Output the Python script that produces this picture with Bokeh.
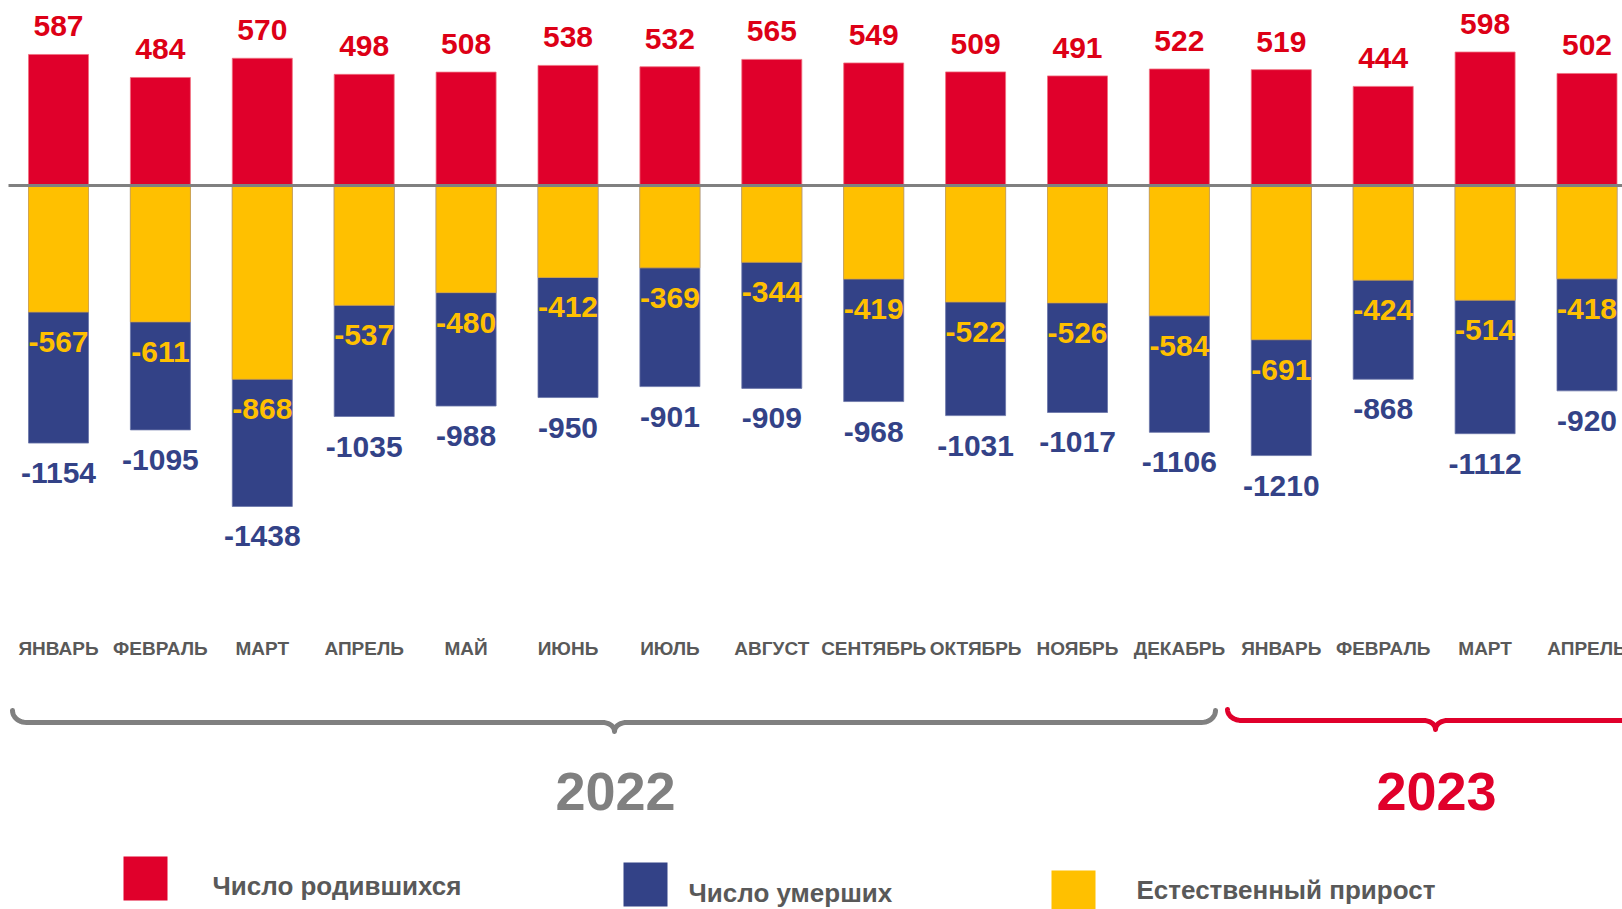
import numpy as np
from bokeh.plotting import figure
from bokeh.models import Range1d, ColumnDataSource
from bokeh.core.properties import value
from bokeh.embed import file_html
from bokeh.resources import INLINE

# ---------------- data ----------------
months = ["ЯНВАРЬ", "ФЕВРАЛЬ", "МАРТ", "АПРЕЛЬ", "МАЙ", "ИЮНЬ", "ИЮЛЬ", "АВГУСТ",
          "СЕНТЯБРЬ", "ОКТЯБРЬ", "НОЯБРЬ", "ДЕКАБРЬ", "ЯНВАРЬ", "ФЕВРАЛЬ", "МАРТ", "АПРЕЛЬ"]
births = [587, 484, 570, 498, 508, 538, 532, 565, 549, 509, 491, 522, 519, 444, 598, 502]
deaths = [-1154, -1095, -1438, -1035, -988, -950, -901, -909, -968, -1031, -1017, -1106,
          -1210, -868, -1112, -920]
growth = [-567, -611, -868, -537, -480, -412, -369, -344, -419, -522, -526, -584,
          -691, -424, -514, -418]
years = ["2022", "2023"]
legend_labels = ["Число родившихся", "Число умерших", "Естественный прирост"]

RED = "#E0002B"
BLUE = "#334287"
YELLOW = "#FFC000"
GRAY = "#808080"
TXT = "#595959"
FONT = "Liberation Sans"

W, H = 1622, 909
X0_PX, STEP = 58.0, 101.9      # pixel centre of first bar, pixel spacing
Y0_PX, SCALE = 185.0, 0.2232   # pixel of zero line, pixels per unit


def dx(px):
    return (px - X0_PX) / STEP


def dy(px):
    return (Y0_PX - px) / SCALE


p = figure(width=W, height=H, output_backend="svg", toolbar_location=None,
           x_range=Range1d(dx(0), dx(W)), y_range=Range1d(dy(H), dy(0)),
           x_axis_type=None, y_axis_type=None, min_border=0)
p.outline_line_color = None
p.grid.visible = False
p.background_fill_color = "white"
p.border_fill_color = "white"

n = len(months)
idx = list(range(n))
src = ColumnDataSource(dict(
    x=idx, births=births, deaths=deaths, growth=growth, months=months,
    btxt=[str(v) for v in births], dtxt=[str(v) for v in deaths],
    gtxt=[str(v) for v in growth],
    by=[b + 28 / SCALE for b in births],
    dyy=[d - 30 / SCALE for d in deaths],
    gy=[g - 30 / SCALE for g in growth],
    my=[dy(648)] * n,
))

bw = 60 / STEP
p.vbar(x="x", top="births", bottom=0, width=bw, source=src, fill_color=RED,
       line_color="#F07080", line_width=0.8)
p.vbar(x="x", top=0, bottom="deaths", width=bw, source=src, fill_color=BLUE,
       line_color="#6A75A8", line_width=0.8)
p.vbar(x="x", top=0, bottom="growth", width=bw, source=src, fill_color=YELLOW,
       line_color="#D9A84A", line_width=0.8)

# zero line
p.segment(x0=dx(8), y0=0, x1=dx(W), y1=0, line_color=GRAY, line_width=3)

common = dict(text_font=value(FONT), text_font_style="bold", text_align="center",
              text_baseline="middle")
p.text(x="x", y="by", text="btxt", source=src, text_color="#DD0016",
       text_font_size="30px", **common)
p.text(x="x", y="dyy", text="dtxt", source=src, text_color=BLUE,
       text_font_size="30px", **common)
p.text(x="x", y="gy", text="gtxt", source=src, text_color=YELLOW,
       text_font_size="30px", **common)
p.text(x="x", y="my", text="months", source=src, text_color=TXT,
       text_font_size="19px", **common)


# ---------------- braces ----------------
def brace(x0, x1, xc, yl, ytop, ydip, r=14, d=12):
    pts = []
    t = np.linspace(0, 1, 12)
    for tt in t:
        a = np.pi * tt / 2
        pts.append((x0 + r - r * np.cos(a), ytop + (yl - ytop) * np.sin(a)))
    for tt in t:
        pts.append((xc - d + d * np.sin(np.pi * tt / 2), yl + (ydip - yl) * (1 - np.cos(np.pi * tt / 2))))
    for tt in t:
        pts.append((xc + d * (1 - np.cos(np.pi * tt / 2)), ydip + (yl - ydip) * np.sin(np.pi * tt / 2)))
    for tt in t:
        a = np.pi * tt / 2
        pts.append((x1 - r + r * np.sin(a), yl + (ytop - yl) * (1 - np.cos(a))))
    xs = [dx(a) for a, b in pts]
    ys = [dy(b) for a, b in pts]
    return xs, ys


xs, ys = brace(12, 1215, 614, 722, 710, 731)
p.line(xs, ys, line_color=GRAY, line_width=5, line_join="round", line_cap="round")
xs, ys = brace(1227, 1660, 1435, 720, 709, 729)
p.line(xs, ys, line_color=RED, line_width=5, line_join="round", line_cap="round")

# year labels
p.text(x=[dx(615), dx(1436)], y=[dy(791)] * 2, text=years, text_color=[GRAY, RED],
       text_font_size="54px", **common)

# ---------------- legend ----------------
sq_x = [dx(145), dx(645), dx(1073)]
sq_y = [dy(878), dy(884), dy(892)]
p.rect(x=sq_x, y=sq_y, width=44 / STEP, height=44 / SCALE,
       fill_color=[RED, BLUE, YELLOW], line_color=None)
p.text(x=[dx(212), dx(688), dx(1136)], y=[dy(885), dy(892), dy(889)],
       text=legend_labels, text_color=TXT, text_font=value(FONT),
       text_font_style="bold", text_font_size="26px", text_align="left",
       text_baseline="middle")

open("out.html", "w").write(file_html(p, INLINE))
